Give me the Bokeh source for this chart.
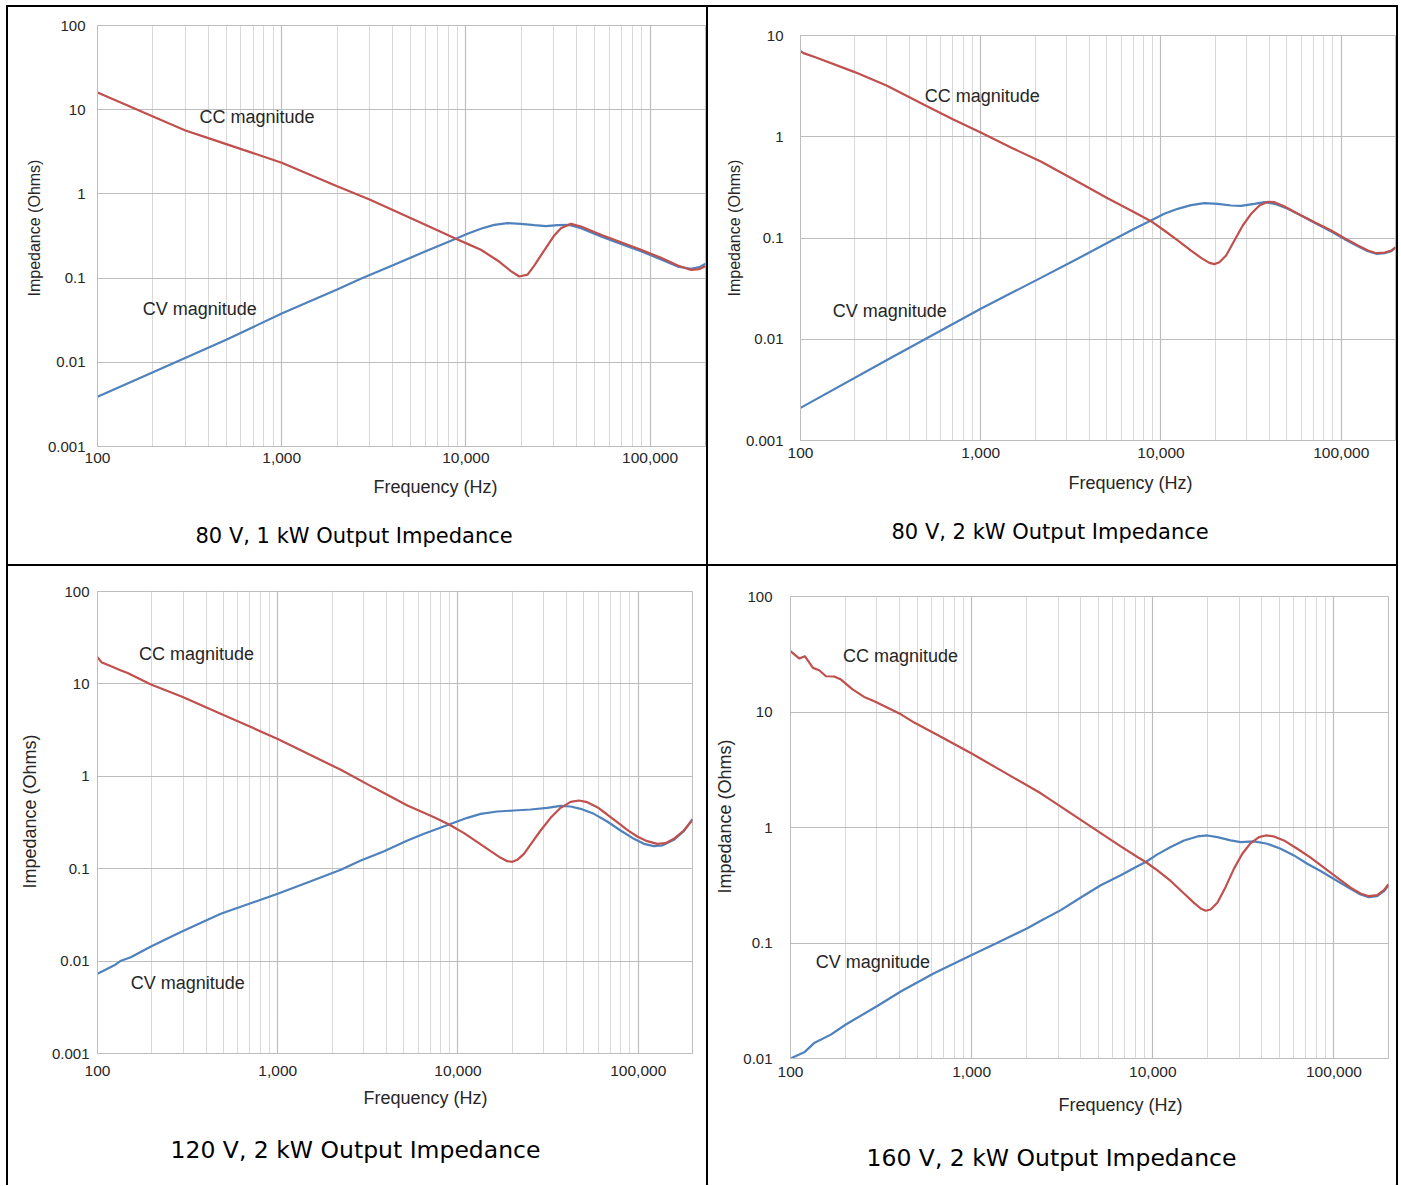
from bokeh.plotting import figure
from bokeh.models import FixedTicker, Label, Spacer, Range1d, Title
from bokeh.layouts import column, row
from bokeh.embed import file_html
from bokeh.resources import INLINE

# ---------------- data ----------------
X_TICKS = [100, 1000, 10000, 100000]
X_TICK_LABELS = ["100", "1,000", "10,000", "100,000"]
X_MINOR = [200, 300, 400, 500, 600, 700, 800, 900,
           2000, 3000, 4000, 5000, 6000, 7000, 8000, 9000,
           20000, 30000, 40000, 50000, 60000, 70000, 80000, 90000, 200000]
Y_TICKS = [0.001, 0.01, 0.1, 1, 10, 100]
Y_TICK_LABELS = ["0.001", "0.01", "0.1", "1", "10", "100"]

# 80 V, 1 kW
F80_1K_CC = [100, 150, 200, 300, 400, 500, 700, 1000, 1500, 2000, 3000, 5000, 7000, 8823, 10210, 12060,
             14860, 17560, 19490, 21630, 23510, 25560, 27790, 30200, 32830, 37210, 42170, 54150,
             69560, 89330, 114770, 141370, 167050, 185400, 200000]
Z80_1K_CC = [16, 10.9, 8.3, 5.66, 4.6, 3.9, 3.05, 2.34, 1.61, 1.23, 0.858, 0.516, 0.369, 0.293, 0.255,
             0.217, 0.162, 0.121, 0.1045, 0.110, 0.141, 0.186, 0.244, 0.321, 0.392, 0.441, 0.410,
             0.327, 0.267, 0.217, 0.174, 0.141, 0.125, 0.128, 0.138]
F80_1K_CV = [100, 200, 500, 1000, 2000, 2688, 4078, 6186, 8823, 10210, 12060, 14260, 16840, 19910,
             23510, 27210, 31490, 36440, 42170, 54150, 69560, 89330, 114770, 141370, 167050, 185400,
             200000]
Z80_1K_CV = [0.0039, 0.0076, 0.0185, 0.038, 0.073, 0.098, 0.144, 0.213, 0.293, 0.336, 0.385, 0.429,
             0.449, 0.441, 0.425, 0.414, 0.425, 0.429, 0.392, 0.312, 0.255, 0.209, 0.166, 0.137,
             0.129, 0.135, 0.148]

# 80 V, 2 kW
F80_2K_CC = [100, 104, 121, 200, 300, 500, 700, 1000, 1500, 2154, 3300, 5054, 7110, 8800, 10430, 12380,
             14680, 16680, 18550, 19780, 21090, 22970, 25550, 28420, 31620, 35170, 39130, 42630,
             48440, 57440, 71100, 87990, 104350, 123770, 140650, 156440, 174100, 189620, 200000]
Z80_2K_CC = [7.0, 6.7, 6.1, 4.35, 3.2, 2.01, 1.49, 1.10, 0.77, 0.5695, 0.3754, 0.2474, 0.1799, 0.1466,
             0.1186, 0.0945, 0.0752, 0.0637, 0.0568, 0.0552, 0.0577, 0.0672, 0.0945, 0.1329, 0.1733,
             0.2094, 0.2277, 0.2259, 0.2047, 0.1733, 0.1433, 0.1186, 0.0996, 0.0843, 0.0752, 0.0708,
             0.0719, 0.0752, 0.081]
F80_2K_CV = [100, 300, 1000, 2154, 3300, 5054, 7110, 8800, 10430, 12380, 14680, 17400, 20640, 24480,
             27820, 33000, 37510, 42630, 50550, 59950, 71100, 87990, 104350, 123770, 140650, 156440,
             174100, 189620, 200000]
Z80_2K_CV = [0.0021, 0.0062, 0.020, 0.0404, 0.0599, 0.0896, 0.1232, 0.1489, 0.1733, 0.1941, 0.2111,
             0.2208, 0.2175, 0.2094, 0.2078, 0.2175, 0.2259, 0.2175, 0.1941, 0.1668, 0.1412, 0.1159,
             0.0974, 0.0830, 0.0741, 0.0698, 0.0708, 0.0741, 0.0805]

# 120 V, 2 kW
F120_CC = [100, 105, 119, 135, 147, 198, 297, 500, 700, 1000, 1500, 2238, 3424, 5241, 7367, 8920,
           10800, 12810, 15180, 17250, 18780, 20020, 21330, 23230, 25830, 28730, 32650, 37100, 42140,
           46880, 52140, 59250, 67300, 76440, 86850, 98700, 112100, 127400, 141700, 157600, 179000,
           200000]
Z120_CC = [19.5, 17.2, 15.5, 14, 13.1, 9.85, 7.2, 4.6, 3.45, 2.54, 1.72, 1.175, 0.750, 0.483, 0.361,
           0.301, 0.2424, 0.1937, 0.1548, 0.1311, 0.1207, 0.1187, 0.1247, 0.1448, 0.1937, 0.2591,
           0.3552, 0.4558, 0.5293, 0.5471, 0.5249, 0.4634, 0.3859, 0.3189, 0.2634, 0.2231, 0.1986,
           0.1858, 0.1889, 0.2104, 0.2591, 0.338]
F120_CV = [100, 124, 135, 153, 198, 290, 483, 1000, 1500, 2238, 2889, 3890, 5241, 6482, 8920, 11270,
           13360, 16530, 20440, 25290, 31290, 37100, 42140, 47880, 56770, 67300, 79800, 94580,
           107500, 122100, 135800, 157600, 179000, 200000]
Z120_CV = [0.0073, 0.009, 0.0101, 0.011, 0.0144, 0.0206, 0.0325, 0.0536, 0.0721, 0.0972, 0.1227,
           0.1548, 0.2019, 0.2384, 0.301, 0.3552, 0.3925, 0.4159, 0.4265, 0.4372, 0.4558, 0.4791,
           0.4712, 0.4446, 0.3925, 0.3242, 0.2591, 0.2104, 0.1858, 0.1753, 0.1783, 0.2053, 0.2548,
           0.3436]

# 160 V, 2 kW
F160_CC = [100, 112, 120, 133, 144, 157, 174, 190, 220, 255, 290, 407, 482, 700, 1000, 1500, 2408,
           3105, 4004, 5159, 6653, 8222, 9140, 10600, 12550, 14870, 16880, 18380, 19580, 20860,
           22710, 25240, 28060, 31190, 34670, 38550, 41950, 46640, 52960, 62710, 74300, 88000,
           104200, 123500, 140200, 155800, 173200, 188600, 200000]
Z160_CC = [33.6, 29, 30.4, 24.1, 23, 20.4, 20.3, 19.1, 15.7, 13.5, 12.4, 9.55, 8.1, 5.93, 4.37, 3.03,
           1.977, 1.517, 1.164, 0.894, 0.686, 0.555, 0.5027, 0.4259, 0.3446, 0.2681, 0.2227, 0.1990,
           0.1900, 0.1951, 0.2227, 0.3060, 0.4402, 0.5929, 0.7328, 0.8254, 0.8532, 0.8365, 0.7727,
           0.6547, 0.5477, 0.4491, 0.3682, 0.3019, 0.2681, 0.2542, 0.2594, 0.2863, 0.3226]
F160_CV = [100, 119, 135, 167, 202, 303, 406, 620, 1000, 1360, 2030, 2408, 3105, 4004, 5159, 6653,
           8222, 9140, 10600, 12550, 14870, 17620, 20000, 22710, 26900, 30530, 36170, 42850, 50770,
           60130, 71220, 84360, 99930, 123500, 140200, 155800, 173200, 188600, 200000]
Z160_CV = [0.01, 0.0113, 0.0136, 0.0161, 0.0197, 0.0286, 0.038, 0.0548, 0.0788, 0.099, 0.134, 0.1558,
           0.1925, 0.2475, 0.3163, 0.3857, 0.4610, 0.5027, 0.5852, 0.6768, 0.7727, 0.8365, 0.8532,
           0.8254, 0.7727, 0.7475, 0.7574, 0.7232, 0.6547, 0.5734, 0.4860, 0.4203, 0.3585, 0.2940,
           0.2628, 0.2492, 0.2542, 0.2807, 0.316]

CAPTIONS = ["80 V, 1 kW Output Impedance", "80 V, 2 kW Output Impedance",
            "120 V, 2 kW Output Impedance", "160 V, 2 kW Output Impedance"]

# ---------------- styling ----------------
RED = "#c0504d"
BLUE = "#4f81bd"
GRID_MAJOR = "#bdbdbd"
GRID_MINOR = "#d9d9d9"
TXT = "#262626"
SANS = "Liberation Sans"
CAP_FONT = "DejaVu Sans"


def make_chart(cfg):
    p = figure(width=cfg["w"], height=cfg["h"], x_axis_type="log", y_axis_type="log",
               x_range=Range1d(100, 200000), y_range=Range1d(cfg["ymin"], cfg["ymax"]),
               output_backend="svg", toolbar_location=None, frame_align=False,
               min_border_left=cfg["bl"], min_border_right=cfg["br"],
               min_border_top=cfg["bt"], min_border_bottom=cfg["bb"])
    p.background_fill_color = "white"
    p.border_fill_color = "white"
    p.outline_line_color = GRID_MAJOR

    xt = FixedTicker(ticks=X_TICKS, minor_ticks=X_MINOR)
    yt = FixedTicker(ticks=Y_TICKS, minor_ticks=[])
    p.xaxis.ticker = xt
    p.yaxis.ticker = yt
    p.xgrid.ticker = xt
    p.ygrid.ticker = yt
    p.xaxis.major_label_overrides = dict(zip(X_TICKS, X_TICK_LABELS))
    p.yaxis.major_label_overrides = dict(zip(Y_TICKS, Y_TICK_LABELS))
    for ax in (p.xaxis[0], p.yaxis[0]):
        ax.axis_line_color = GRID_MAJOR
        ax.major_tick_line_color = None
        ax.minor_tick_line_color = None
        ax.major_label_text_font = SANS
        ax.major_label_text_color = TXT
    p.xaxis.major_label_text_font_size = "15.5px"
    p.yaxis.major_label_text_font_size = "15px"
    p.xaxis.major_label_standoff = cfg["xstand"]
    p.yaxis.major_label_standoff = cfg["ystand"]

    p.xgrid.grid_line_color = GRID_MAJOR
    p.xgrid.minor_grid_line_color = GRID_MINOR
    p.ygrid.grid_line_color = GRID_MAJOR
    p.xgrid.grid_line_width = 1.2
    p.ygrid.grid_line_width = 1.2

    p.line(cfg["fcv"], cfg["zcv"], line_color=BLUE, line_width=2.2)
    p.line(cfg["fcc"], cfg["zcc"], line_color=RED, line_width=2.2)

    for (fx, zy, txt) in cfg["notes"]:
        p.add_layout(Label(x=fx, y=zy, text=txt, text_font=SANS, text_font_size="18px",
                           text_color=TXT, text_align="left", text_baseline="middle"))

    # axis titles and caption as side-panel titles
    p.add_layout(Title(text="Frequency (Hz)", align="left", offset=cfg["fx_off"],
                       vertical_align="top", standoff=cfg["fx_st"], text_font=SANS,
                       text_font_size="18px", text_font_style="normal", text_color=TXT), "below")
    p.add_layout(Title(text=cfg["caption"], align="left", offset=cfg["cap_off"],
                       vertical_align="bottom", standoff=cfg["cap_st"], text_font=CAP_FONT,
                       text_font_size=cfg["capsize"], text_font_style="normal",
                       text_color="black"), "below")
    p.add_layout(Title(text="Impedance (Ohms)", align="left", offset=cfg["iy_off"],
                       vertical_align=cfg["iy_va"], standoff=cfg["iy_st"], text_font=SANS,
                       text_font_size=cfg["iy_size"], text_font_style="normal", text_color=TXT),
                 "left")
    return p


cfgs = [
    dict(w=698, h=557, bl=89, br=1, bt=18, bb=118, ymin=0.001, ymax=100,
         xstand=0, ystand=6, fcc=F80_1K_CC, zcc=Z80_1K_CC, fcv=F80_1K_CV, zcv=Z80_1K_CV,
         notes=[(358, 8.3, "CC magnitude"), (176, 0.0424, "CV magnitude")],
         fx_off=276, fx_st=22, cap_off=98, cap_st=24,
         iy_off=150, iy_st=3, iy_va="bottom", iy_size="16px",
         caption=CAPTIONS[0], capsize="21px"),
    dict(w=688, h=557, bl=92, br=1, bt=28, bb=124, ymin=0.001, ymax=10,
         xstand=1, ystand=11, fcc=F80_2K_CC, zcc=Z80_2K_CC, fcv=F80_2K_CV, zcv=Z80_2K_CV,
         notes=[(489, 2.5, "CC magnitude"), (151, 0.0192, "CV magnitude")],
         fx_off=268, fx_st=24, cap_off=91, cap_st=22,
         iy_off=144, iy_st=0, iy_va="bottom", iy_size="16px",
         caption=CAPTIONS[1], capsize="21px"),
    dict(w=698, h=619, bl=89, br=14, bt=25, bb=132, ymin=0.001, ymax=100,
         xstand=6, ystand=2, fcc=F120_CC, zcc=Z120_CC, fcv=F120_CV, zcv=Z120_CV,
         notes=[(170, 21.3, "CC magnitude"), (153, 0.00586, "CV magnitude")],
         fx_off=266, fx_st=18, cap_off=73, cap_st=31,
         iy_off=165, iy_st=13, iy_va="top", iy_size="18px",
         caption=CAPTIONS[2], capsize="23.5px"),
    dict(w=688, h=619, bl=82, br=8, bt=30, bb=127, ymin=0.01, ymax=100,
         xstand=2, ystand=12, fcc=F160_CC, zcc=Z160_CC, fcv=F160_CV, zcv=Z160_CV,
         notes=[(195, 30.4, "CC magnitude"), (138, 0.0686, "CV magnitude")],
         fx_off=268, fx_st=30, cap_off=76, cap_st=21,
         iy_off=165, iy_st=8, iy_va="top", iy_size="18px",
         caption=CAPTIONS[3], capsize="23.5px"),
]

charts = [make_chart(c) for c in cfgs]

BLACK = {"background-color": "black"}


def vbar(h):
    return Spacer(width=2, height=h, styles=BLACK)


table = column(
    Spacer(width=1392, height=2, styles=BLACK),
    row(vbar(557), charts[0], vbar(557), charts[1], vbar(557), spacing=0),
    Spacer(width=1392, height=2, styles=BLACK),
    row(vbar(619), charts[2], vbar(619), charts[3], vbar(619), spacing=0),
    spacing=0,
)

layout = column(
    Spacer(width=1398, height=5),
    row(Spacer(width=6, height=1180), table, spacing=0),
    spacing=0,
)

open("out.html", "w").write(file_html(layout, INLINE))
